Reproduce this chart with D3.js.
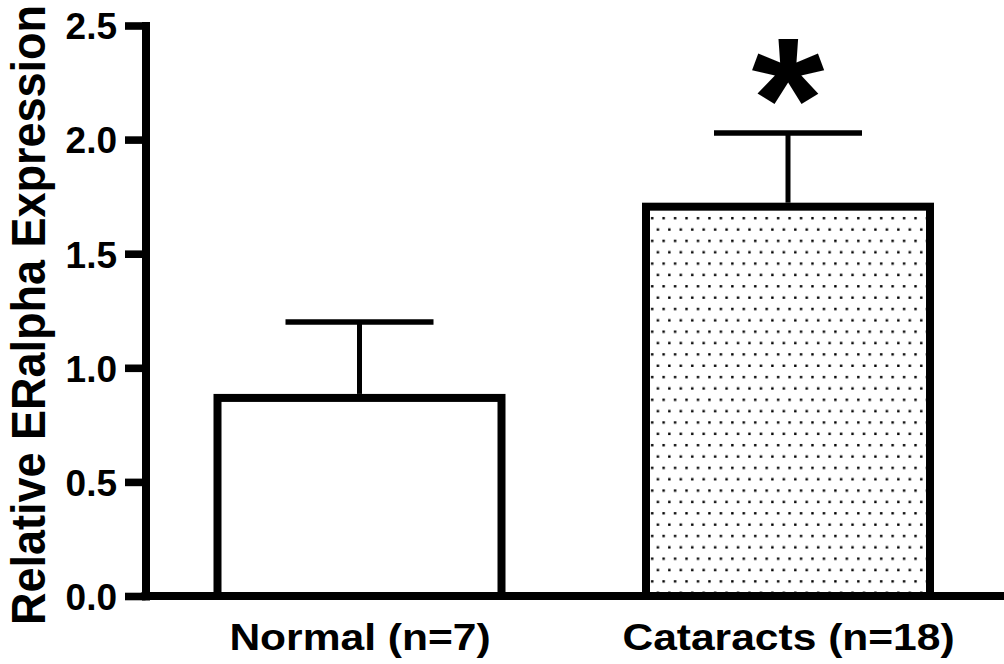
<!DOCTYPE html>
<html>
<head>
<meta charset="utf-8">
<script src="https://cdn.jsdelivr.net/npm/d3@7"></script>
<style>
  html, body { margin: 0; padding: 0; background: #fff; }
  svg { display: block; }
  text { font-family: "Liberation Sans", Arial, Helvetica, sans-serif; font-weight: bold; fill: #000; }
</style>
</head>
<body>
<svg id="chart" width="1004" height="664"></svg>
<script>
const categories = ["Normal (n=7)", "Cataracts (n=18)"];
const means = [0.868, 1.706];
const errors = [0.333, 0.323];
const yTicks = [0.0, 0.5, 1.0, 1.5, 2.0, 2.5];
const yTitle = "Relative ERalpha Expression";
const significance = ["", "*"];

const svg = d3.select("#chart");
const W = 1004, H = 664;

const y = d3.scaleLinear().domain([0, 2.5]).range([596, 25.5]);
const x = d3.scalePoint().domain(categories).range([359.5, 788]);
const barW = 284;
const capW = 148;
const axisX = 145.5;

// dotted pattern
const defs = svg.append("defs");
const pat = defs.append("pattern")
  .attr("id", "dots")
  .attr("patternUnits", "userSpaceOnUse")
  .attr("width", 11.45).attr("height", 22.7)
  .attr("x", 648).attr("y", 214);
pat.append("rect").attr("x", 3).attr("y", 3).attr("width", 2.4).attr("height", 2.4).attr("fill", "#000");
pat.append("rect").attr("x", 8.7).attr("y", 14.35).attr("width", 2.4).attr("height", 2.4).attr("fill", "#000");

const fills = ["#fff", "url(#dots)"];

// bars
const g = svg.append("g");
g.selectAll("rect.bar").data(categories).join("rect")
  .attr("class", "bar")
  .attr("x", d => x(d) - barW / 2)
  .attr("y", (d, i) => y(means[i]))
  .attr("width", barW)
  .attr("height", (d, i) => y(0) - y(means[i]))
  .attr("fill", (d, i) => fills[i])
  .attr("stroke", "#000")
  .attr("stroke-width", 8);

// error bars
g.selectAll("line.stem").data(categories).join("line")
  .attr("class", "stem")
  .attr("x1", d => x(d)).attr("x2", d => x(d))
  .attr("y1", (d, i) => y(means[i]) - 4)
  .attr("y2", (d, i) => y(means[i] + errors[i]))
  .attr("stroke", "#000").attr("stroke-width", 5);
g.selectAll("line.cap").data(categories).join("line")
  .attr("class", "cap")
  .attr("x1", d => x(d) - capW / 2).attr("x2", d => x(d) + capW / 2)
  .attr("y1", (d, i) => y(means[i] + errors[i]))
  .attr("y2", (d, i) => y(means[i] + errors[i]))
  .attr("stroke", "#000").attr("stroke-width", 5.5);

// significance
g.selectAll("text.sig").data(categories).join("text")
  .attr("class", "sig")
  .attr("transform", d => `translate(${x(d)},159) scale(1.07,1)`)
  .attr("text-anchor", "middle")
  .style("font-size", "175px")
  .text((d, i) => significance[i]);

// y axis
const yAxis = d3.axisLeft(y).tickValues(yTicks).tickFormat(d3.format(".1f"))
  .tickSize(20.5).tickSizeOuter(0).tickPadding(8);
const ya = svg.append("g").attr("transform", `translate(${axisX},0)`).call(yAxis);
ya.select(".domain").attr("stroke", "#000").attr("stroke-width", 8).attr("stroke-linecap", "square");
ya.selectAll(".tick line").attr("stroke", "#000").attr("stroke-width", 7.6);
ya.selectAll(".tick text").attr("font-family", null).attr("font-size", null)
  .style("font-size", "37px").attr("dy", "0.36em");

// x axis baseline
svg.append("line")
  .attr("x1", axisX - 4).attr("x2", W)
  .attr("y1", y(0)).attr("y2", y(0))
  .attr("stroke", "#000").attr("stroke-width", 8);

// x axis labels
const xAxis = d3.axisBottom(x).tickSize(0).tickPadding(0);
const xa = svg.append("g").attr("transform", `translate(0,${y(0)})`).call(xAxis);
xa.select(".domain").remove();
xa.selectAll(".tick text").attr("font-family", null).attr("font-size", null)
  .attr("dy", null).attr("y", null)
  .attr("transform", "translate(0,54) scale(1.15,1)")
  .style("font-size", "37px");

// y title
svg.append("text")
  .attr("transform", `translate(44.5,315) scale(1.08,1) rotate(-90)`)
  .attr("text-anchor", "middle")
  .style("font-size", "45px")
  .text(yTitle);
</script>
</body>
</html>
